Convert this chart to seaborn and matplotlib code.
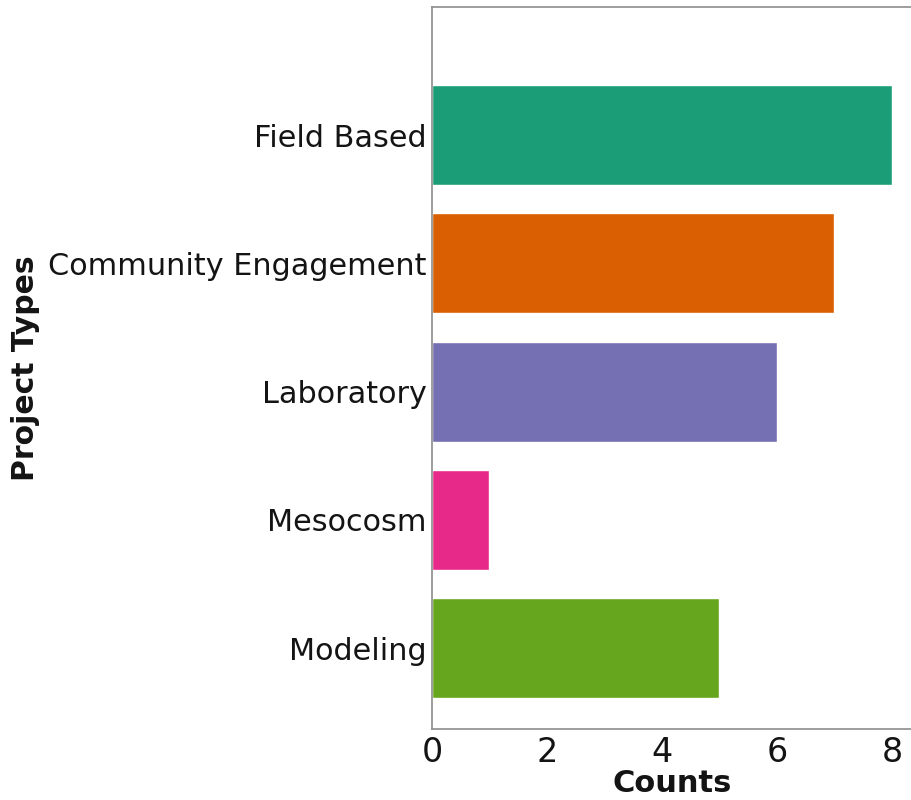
import pandas as pd
import numpy as np
import matplotlib.pyplot as plt
import seaborn as sns

# project type counts
project_types = ["Field Based", "Community Engagement", "Laboratory", "Mesocosm", "Modeling"]
counts = [8, 7, 6, 1, 5]
colors = ["#1b9e77", "#d95f02", "#7570b3", "#e7298a", "#66a61e"]

df = pd.DataFrame({"Project Types": project_types, "Counts": counts})

sns.set_style("white")
plt.rcParams['font.family'] = ['DejaVu Sans']
plt.rcParams['text.color'] = '0.08'
plt.rcParams['axes.labelcolor'] = '0.08'
plt.rcParams['xtick.labelcolor'] = '0.08'
plt.rcParams['ytick.labelcolor'] = '0.08'

fig = plt.figure(figsize=(9.12, 8), dpi=100)
ax = fig.add_axes([432 / 912, 1 - 729 / 800, 480 / 912, (729 - 7) / 800])

sns.barplot(data=df, y="Project Types", x="Counts", hue="Project Types",
            palette=colors, orient="h", width=0.78, saturation=1,
            legend=False, ax=ax)

ax.set_xlim(0, 480 / 57.5)
ax.set_ylim(4.63, -1.0)
ax.set_xticks([0, 2, 4, 6, 8])
ax.tick_params(axis="x", labelsize=24, length=3, color="0.5", pad=2)
ax.tick_params(axis="y", labelsize=21.8, length=0, pad=4)
ax.set_xlabel("Counts", fontsize=22, fontweight="bold", labelpad=0)
ax.set_ylabel("Project Types", fontsize=21.5, fontweight="bold", labelpad=6)

for side in ["left", "top", "bottom"]:
    ax.spines[side].set_color("0.55")
    ax.spines[side].set_linewidth(1.2)
ax.spines["right"].set_visible(False)

fig.savefig("out.png", dpi=100)
